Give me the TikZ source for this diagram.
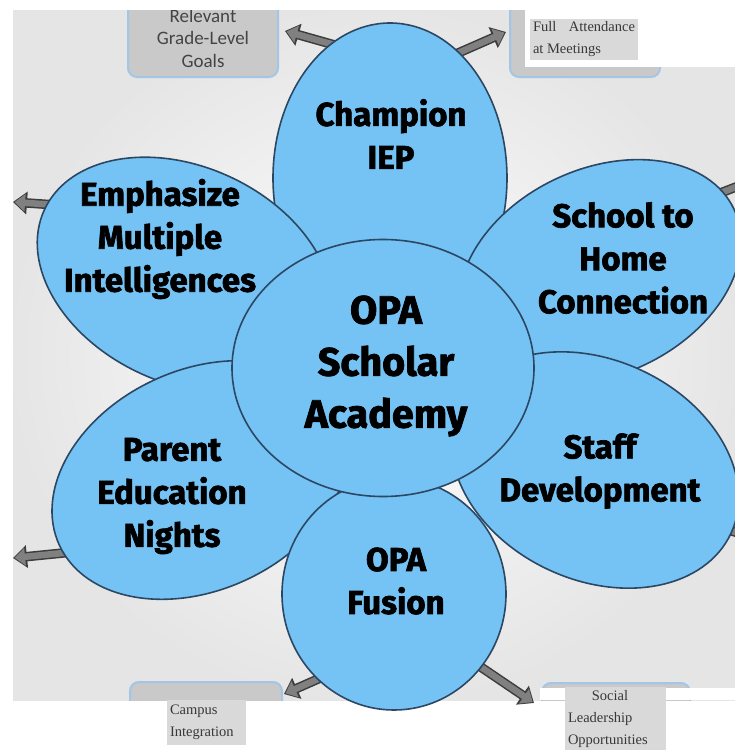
\documentclass[tikz,border=0pt]{standalone}
\usepackage{fontspec}
\setmainfont{Liberation Serif}
\newfontfamily\petalfont[BoldFeatures={FakeBold=2}]{Fira Sans}
\newfontfamily\goalfont{Carlito}
\usetikzlibrary{arrows.meta,backgrounds,shapes.geometric}
\definecolor{fpblue}{HTML}{74C3F4}
\definecolor{fpedge}{HTML}{2C4763}
\definecolor{fpbox}{HTML}{C9C9C9}
\definecolor{fpboxedge}{HTML}{A3C6E4}
\definecolor{fpgoal}{HTML}{444444}
\definecolor{fpnote}{HTML}{D9D9D9}
\definecolor{fpnotetext}{HTML}{383838}
\definecolor{fparrow}{HTML}{808080}
\definecolor{fparrowedge}{HTML}{3C3C3C}
\tikzset{
  petal/.style={ellipse,draw=fpedge,fill=fpblue,line width=1.6pt,inner sep=0pt},
  petaltext/.style={font=\petalfont\bfseries\fontsize{33}{43}\selectfont,align=center,text=black},
  hubtext/.style={font=\petalfont\bfseries\fontsize{39.5}{52}\selectfont,align=center,text=black},
  goalbox/.style={draw=fpboxedge,fill=fpbox,rounded corners=9pt,line width=2pt},
  goaltext/.style={font=\goalfont\fontsize{19}{22.5}\selectfont,text=fpgoal,align=center},
  note/.style={fill=fpnote,font=\fontsize{14.5}{22}\selectfont,text=fpnotetext,inner sep=3pt},
  arrowrim/.style={draw=fparrowedge,line width=9.5pt,-{Triangle[length=14pt,width=22pt]},shorten >=0pt},
  outarrow/.style={draw=fparrow,line width=6.5pt,-{Triangle[length=10.5pt,width=17pt]},shorten >=1.6pt,shorten <=-8pt,preaction={arrowrim}},
}
\begin{document}
\begin{tikzpicture}[x=1pt,y=-1pt]
  \useasboundingbox (0,0) rectangle (735,750);
  \node[petal,minimum width=234pt,minimum height=310pt] (champ) at (390,178) {};
  \node[petal,rotate=-25,minimum width=310pt,minimum height=216pt] (emph) at (185,275) {};
  \node[petal,rotate=25,minimum width=296pt,minimum height=206pt] (school) at (600,272) {};
  \node[petal,rotate=25,minimum width=310pt,minimum height=220pt] (parent) at (200,480) {};
  \node[petal,rotate=-25,minimum width=300pt,minimum height=220pt] (staff) at (595,470) {};
  \node[petal,minimum width=224pt,minimum height=232pt] (fusion) at (394,594) {};
  \node[petal,minimum width=302pt,minimum height=257pt] (hub) at (383,368) {};
  \node[petaltext] (champtxt) at (391,134) {Champion\\IEP};
  \node[petaltext] (emphtxt) at (160,239) {Emphasize\\Multiple\\Intelligences};
  \node[petaltext] (schooltxt) at (623,258) {School to\\Home\\Connection};
  \node[petaltext] (parenttxt) at (172,496) {Parent\\Education\\Nights};
  \node[petaltext] (stafftxt) at (600,471) {Staff\\Development};
  \node[petaltext] (fusiontxt) at (396,581) {OPA\\Fusion};
  \node[hubtext] (hubtxt) at (386,366) {OPA\\Scholar\\Academy};
  \coordinate (toGoals) at (285,31);
  \coordinate (toAttend) at (506,32);
  \coordinate (toLeftA) at (13,202);
  \coordinate (toLeftB) at (13,558);
  \coordinate (toCampus) at (284,694);
  \coordinate (toSocial) at (534,703);
  \coordinate (toRightA) at (780,170);
  \coordinate (toRightB) at (780,545);
  \begin{scope}[on background layer]
    \begin{scope}
      \clip (13,10) rectangle (735,700);
      \shade[inner color=white,outer color=black!10] (13,10) rectangle (735,700);
      \node[goalbox,goaltext,minimum width=150pt,minimum height=78pt] (goals) at (203,38) {Relevant\\Grade-Level\\Goals};
      \node[goalbox,minimum width=150pt,minimum height=80pt] (attend) at (585,37) {};
      \fill[white] (525,0) rectangle (735,67);
      \node[goalbox,minimum width=152pt,minimum height=76pt] (campus) at (206,720) {};
      \node[goalbox,minimum width=148pt,minimum height=74pt] (social) at (616,720) {};
      \fill[white] (540,688) rectangle (735,700);
    \end{scope}
    \node[note,text width=102pt,align=justify] (attendnote) at (584,39.5) {Full Attendance at Meetings};
    \node[note,text width=73pt,align=left,minimum height=45pt] (campusnote) at (206.5,722.5) {Campus\\Integration};
    \node[note,text width=95pt,align=left,minimum height=62pt] (socialnote) at (615.5,719) {\hspace*{1.65em}Social\\Leadership\\Opportunities};
    \foreach \from/\to in {champ.114/toGoals,champ.61/toAttend,emph.178/toLeftA,parent.183/toLeftB,fusion.228/toCampus,fusion.320/toSocial,school.8/toRightA,staff.1/toRightB}
      \draw[outarrow] (\from) -- (\to);
  \end{scope}
\end{tikzpicture}
\end{document}
